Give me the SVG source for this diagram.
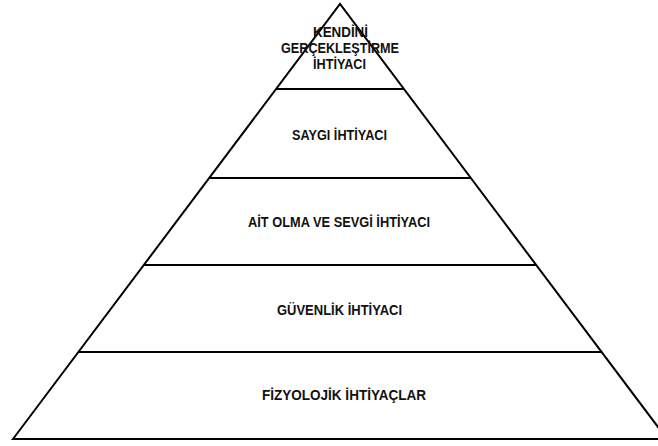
<svg xmlns="http://www.w3.org/2000/svg" width="658" height="446" viewBox="0 0 658 446">
<style>
.edge{stroke:#000;stroke-width:2;fill:none;stroke-linejoin:miter}
.lbl{font-family:"Liberation Sans",Arial,sans-serif;font-weight:bold;font-size:14px;fill:#111;text-anchor:middle}
</style>
<rect width="658" height="446" fill="#fff"/>
<g id="connectors">
<path class="edge" d="M13,439 L340,4 L667,439 Z"/>
<line class="edge" x1="276.1" y1="89" x2="403.9" y2="89"/>
<line class="edge" x1="209.2" y1="178" x2="470.8" y2="178"/>
<line class="edge" x1="143.8" y1="265" x2="536.2" y2="265"/>
<line class="edge" x1="78.4" y1="352" x2="601.6" y2="352"/>
</g>
<g id="level5">
<text class="lbl" x="340.5" y="37" textLength="55" lengthAdjust="spacingAndGlyphs">KENDİNİ</text>
<text class="lbl" x="340" y="53" textLength="118" lengthAdjust="spacingAndGlyphs">GERÇEKLEŞTİRME</text>
<text class="lbl" x="339.5" y="69" textLength="53" lengthAdjust="spacingAndGlyphs">İHTİYACI</text>
</g>
<g id="level4"><text class="lbl" x="339.5" y="140" textLength="95" lengthAdjust="spacingAndGlyphs">SAYGI İHTİYACI</text></g>
<g id="level3"><text class="lbl" x="339" y="227" textLength="182" lengthAdjust="spacingAndGlyphs">AİT OLMA VE SEVGİ İHTİYACI</text></g>
<g id="level2"><text class="lbl" x="339.5" y="315" textLength="125" lengthAdjust="spacingAndGlyphs">GÜVENLİK İHTİYACI</text></g>
<g id="level1"><text class="lbl" x="344" y="400" textLength="164" lengthAdjust="spacingAndGlyphs">FİZYOLOJİK İHTİYAÇLAR</text></g>
</svg>
